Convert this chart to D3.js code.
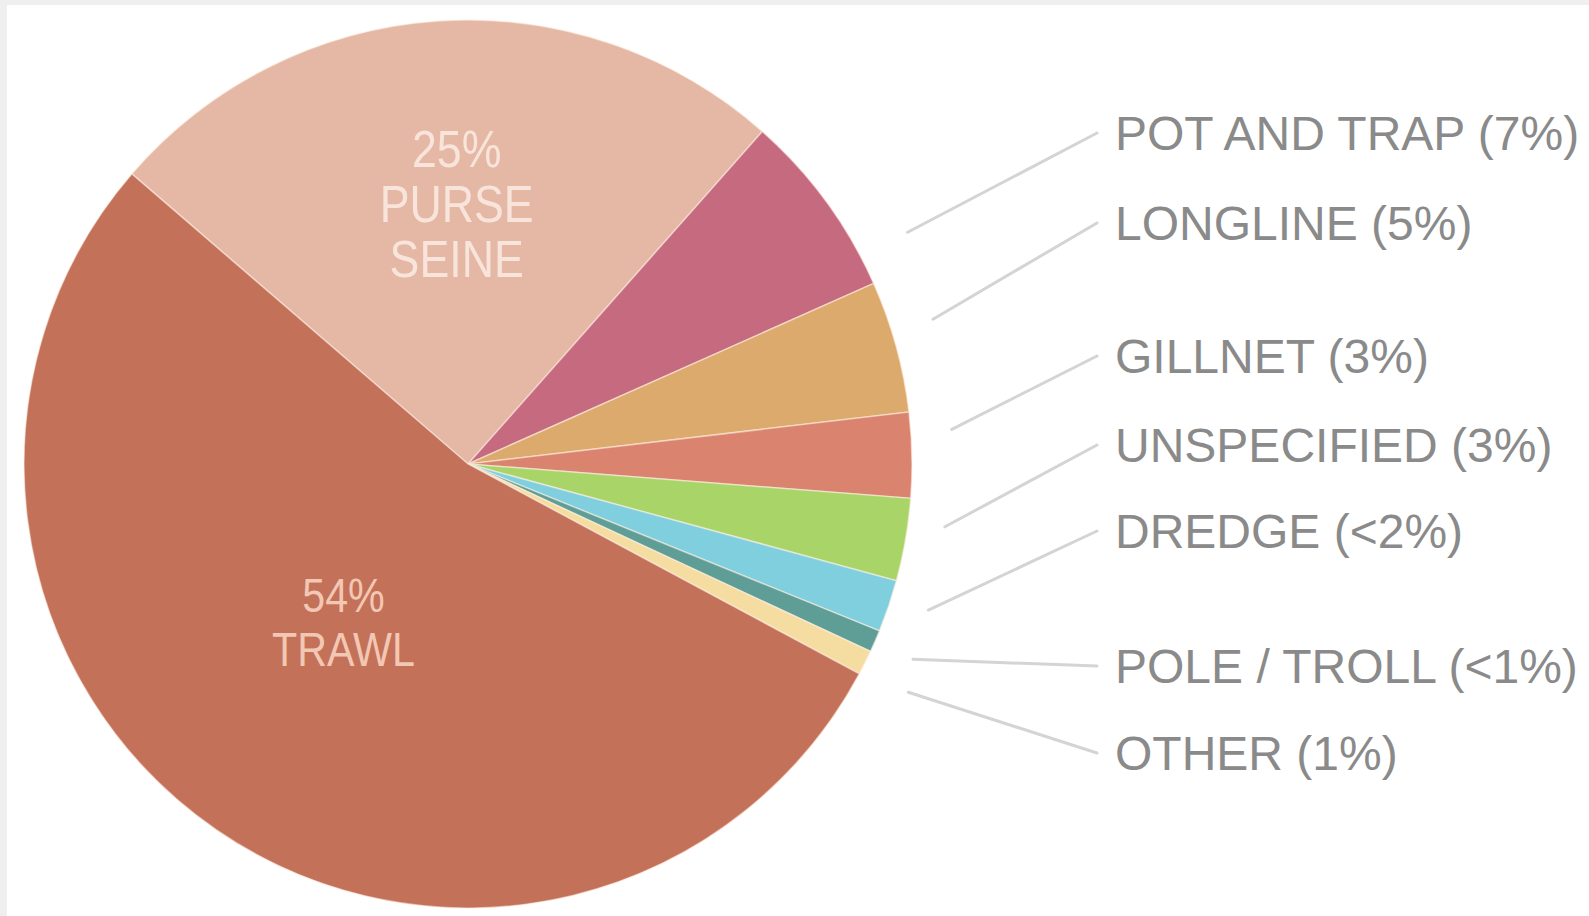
<!DOCTYPE html>
<html>
<head>
<meta charset="utf-8">
<script src="https://cdn.jsdelivr.net/npm/d3@7"></script>
<style>
  html, body { margin: 0; padding: 0; background: #efefef; }
  svg { display: block; }
</style>
</head>
<body>
<svg id="chart" width="1589" height="916"></svg>
<script>
// ---- data ----
const categories = ["PURSE SEINE", "POT AND TRAP", "LONGLINE", "GILLNET", "UNSPECIFIED", "DREDGE", "POLE / TROLL", "OTHER", "TRAWL"];
const shares     = [25.2, 6.8, 4.8, 3.1, 3.0, 1.9, 0.8, 0.9, 53.5];
const shareLabels = ["25%", "7%", "5%", "3%", "3%", "<2%", "<1%", "1%", "54%"];
const colors     = ["#e4b8a4", "#c66a80", "#dcaa6c", "#da8470", "#a9d468", "#80cfdf", "#5f9e96", "#f5dda2", "#c4715a"];

// outer label layout (which slices get a side label, vertical slots)
const outerIdx   = [1, 2, 3, 4, 5, 6, 7];
const outerY     = [150, 240, 373, 462, 548, 683, 770];
const leaderDeg  = [62.2, 72.7, 85.9, 97.5, 107.6, 113.7, 117.4];
const leaderR    = [497, 487, 485, 481, 483, 486, 496];

// inner label layout
const innerIdx   = [0, 8];
const innerDeg   = [-2.5, 218.5];
const innerR     = [260, 200];
const innerColor = ["#f8e4db", "#f2c7b3"];

// ---- layout ----
const W = 1589, H = 916;
const cx = 468, cy = 464, R = 444;
const svg = d3.select("#chart");

svg.append("rect").attr("x", 7).attr("y", 5).attr("width", W - 7).attr("height", H - 5).attr("fill", "#ffffff");

const data = categories.map((c, i) => ({ name: c, value: shares[i], label: shareLabels[i], color: colors[i] }));

const startA = -49.2 * Math.PI / 180;
const pie = d3.pie().value(d => d.value).sort(null).startAngle(startA).endAngle(startA + 2 * Math.PI);
const arcs = pie(data);
const arc = d3.arc().innerRadius(0).outerRadius(R);

const g = svg.append("g").attr("transform", `translate(${cx},${cy})`);
g.selectAll("path.slice")
  .data(arcs)
  .enter().append("path")
  .attr("class", "slice")
  .attr("d", arc)
  .attr("fill", d => d.data.color)
  .attr("stroke", "rgba(255,240,230,0.55)")
  .attr("stroke-width", 1.5);

// polar helper (d3 convention: 0 at 12 o'clock, clockwise)
const pol = (deg, r) => [r * Math.sin(deg * Math.PI / 180), -r * Math.cos(deg * Math.PI / 180)];

// inner labels
innerIdx.forEach((si, k) => {
  const d = arcs[si].data;
  const [x, y] = pol(innerDeg[k], innerR[k]);
  const lines = [d.label].concat(d.name.split(" "));
  const lh = si === 0 ? 55 : 54;
  const t = g.append("g").attr("transform", `translate(${x},${y}) scale(0.86,1)`);
  lines.forEach((ln, j) => {
    t.append("text")
      .attr("x", 0)
      .attr("y", (j - (lines.length - 1) / 2) * lh + 18)
      .attr("text-anchor", "middle")
      .attr("font-family", "'Liberation Sans', Arial, sans-serif")
      .attr("font-size", si === 0 ? 52 : 48)
      .attr("fill", innerColor[k])
      .text(ln);
  });
});

// outer labels with leader lines
const textX = 1115, lineEndX = 1097;
outerIdx.forEach((si, k) => {
  const d = arcs[si].data;
  const [sx, sy] = pol(leaderDeg[k], leaderR[k]);
  svg.append("line")
    .attr("x1", cx + sx).attr("y1", cy + sy)
    .attr("x2", lineEndX).attr("y2", outerY[k] - 17)
    .attr("stroke", "#d4d4d4")
    .attr("stroke-width", 3)
    .attr("stroke-linecap", "round");
  svg.append("text")
    .attr("x", textX)
    .attr("y", outerY[k])
    .attr("font-family", "'Liberation Sans', Arial, sans-serif")
    .attr("font-size", 48)
    .attr("fill", "#8a8a8a")
    .text(`${d.name} (${d.label})`);
});
</script>
</body>
</html>
